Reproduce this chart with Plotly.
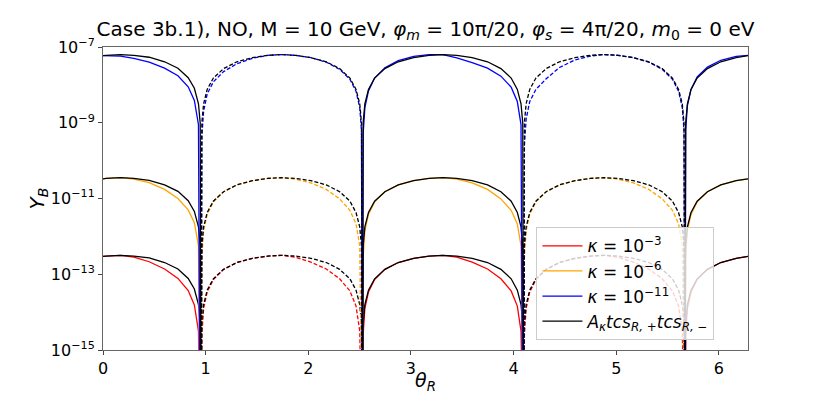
import numpy as np
import plotly.graph_objects as go

# theta_R sample points (dense near the zeros at ~0.955 + k*pi/2)
theta = [
    0.0, 0.03, 0.17, 0.30, 0.45, 0.60, 0.73, 0.83, 0.89, 0.93, 0.947,
    0.955,
    0.963, 0.980, 1.015, 1.075, 1.175, 1.305, 1.455, 1.605, 1.740, 1.875, 2.025, 2.175, 2.305, 2.405, 2.465, 2.501, 2.518,
    2.526,
    2.534, 2.551, 2.586, 2.646, 2.746, 2.876, 3.026, 3.176, 3.311, 3.446, 3.596, 3.746, 3.876, 3.976, 4.036, 4.072, 4.089,
    4.097,
    4.105, 4.122, 4.157, 4.217, 4.317, 4.447, 4.597, 4.747, 4.882, 5.017, 5.167, 5.317, 5.447, 5.547, 5.607, 5.643, 5.660,
    5.668,
    5.676, 5.693, 5.728, 5.788, 5.888, 6.018, 6.168, 6.283,
]
# +1 positive (solid), -1 negative (dashed), 0 zero crossing
branch = [1] * 11 + [0] + [-1] * 17 + [0] + [1] * 17 + [0] + [-1] * 17 + [0] + [1] * 8

# log10(Y_B)
logy_blue = [
    -7.23, -7.23, -7.24, -7.30, -7.40, -7.56, -7.76, -8.05, -8.41, -9.05, -18,
    -18,
    -9.35, -8.70, -8.24, -7.92, -7.65, -7.44, -7.30, -7.22, -7.20, -7.22, -7.28, -7.40, -7.59, -7.85, -8.17, -8.60, -9.21,
    -18,
    -9.30, -8.60, -8.16, -7.82, -7.55, -7.36, -7.25, -7.20, -7.20, -7.29, -7.41, -7.56, -7.77, -8.06, -8.44, -9.05, -18,
    -18,
    -9.60, -8.90, -8.44, -8.12, -7.84, -7.54, -7.34, -7.24, -7.20, -7.22, -7.28, -7.40, -7.59, -7.85, -8.17, -8.60, -9.21,
    -18,
    -9.20, -8.55, -8.12, -7.79, -7.53, -7.35, -7.25, -7.22,
]
logy_blue_ref = [
    -7.23, -7.22, -7.20, -7.22, -7.27, -7.39, -7.56, -7.81, -8.09, -8.50, -9.01,
    -18,
    -9.00, -8.50, -8.12, -7.82, -7.57, -7.39, -7.28, -7.22, -7.20, -7.22, -7.28, -7.39, -7.57, -7.82, -8.12, -8.50, -9.01,
    -18,
    -9.00, -8.50, -8.12, -7.82, -7.57, -7.39, -7.28, -7.22, -7.20, -7.22, -7.28, -7.39, -7.57, -7.82, -8.12, -8.50, -9.01,
    -18,
    -9.00, -8.50, -8.12, -7.82, -7.57, -7.39, -7.28, -7.22, -7.20, -7.22, -7.28, -7.39, -7.57, -7.82, -8.12, -8.50, -9.01,
    -18,
    -9.00, -8.50, -8.12, -7.82, -7.57, -7.39, -7.28, -7.23,
]
logy_orange = [
    -10.48, -10.47, -10.45, -10.49, -10.58, -10.76, -11.00, -11.30, -11.64, -12.25, -18,
    -18,
    -12.55, -11.85, -11.42, -11.09, -10.82, -10.64, -10.53, -10.47, -10.45, -10.49, -10.59, -10.76, -11.01, -11.31, -11.67, -12.25, -18,
    -18,
    -12.55, -11.85, -11.42, -11.09, -10.82, -10.64, -10.53, -10.47, -10.45, -10.49, -10.59, -10.76, -11.01, -11.31, -11.67, -12.25, -18,
    -18,
    -12.55, -11.85, -11.42, -11.09, -10.82, -10.64, -10.53, -10.47, -10.45, -10.49, -10.59, -10.76, -11.01, -11.31, -11.67, -12.25, -18,
    -18,
    -12.55, -11.85, -11.42, -11.09, -10.82, -10.64, -10.53, -10.48,
]
logy_orange_ref = [
    -10.48, -10.47, -10.45, -10.47, -10.52, -10.64, -10.81, -11.06, -11.34, -11.75, -12.26,
    -18,
    -12.25, -11.75, -11.37, -11.07, -10.82, -10.64, -10.53, -10.47, -10.45, -10.47, -10.53, -10.64, -10.82, -11.07, -11.37, -11.75, -12.26,
    -18,
    -12.25, -11.75, -11.37, -11.07, -10.82, -10.64, -10.53, -10.47, -10.45, -10.47, -10.53, -10.64, -10.82, -11.07, -11.37, -11.75, -12.26,
    -18,
    -12.25, -11.75, -11.37, -11.07, -10.82, -10.64, -10.53, -10.47, -10.45, -10.47, -10.53, -10.64, -10.82, -11.07, -11.37, -11.75, -12.26,
    -18,
    -12.25, -11.75, -11.37, -11.07, -10.82, -10.64, -10.53, -10.48,
]
logy_red = [
    -12.53, -12.52, -12.50, -12.55, -12.67, -12.86, -13.11, -13.43, -13.81, -14.50, -18,
    -18,
    -14.60, -13.90, -13.47, -13.14, -12.87, -12.69, -12.58, -12.52, -12.50, -12.55, -12.68, -12.86, -13.12, -13.44, -13.84, -14.50, -18,
    -18,
    -14.60, -13.90, -13.47, -13.14, -12.87, -12.69, -12.58, -12.52, -12.50, -12.55, -12.68, -12.86, -13.12, -13.44, -13.84, -14.50, -18,
    -18,
    -14.60, -13.90, -13.47, -13.14, -12.87, -12.69, -12.58, -12.52, -12.50, -12.55, -12.68, -12.86, -13.12, -13.44, -13.84, -14.50, -18,
    -18,
    -14.60, -13.90, -13.47, -13.14, -12.87, -12.69, -12.58, -12.53,
]
logy_red_ref = [
    -12.53, -12.52, -12.50, -12.52, -12.57, -12.69, -12.86, -13.11, -13.39, -13.80, -14.31,
    -18,
    -14.30, -13.80, -13.42, -13.12, -12.87, -12.69, -12.58, -12.52, -12.50, -12.52, -12.58, -12.69, -12.87, -13.12, -13.42, -13.80, -14.31,
    -18,
    -14.30, -13.80, -13.42, -13.12, -12.87, -12.69, -12.58, -12.52, -12.50, -12.52, -12.58, -12.69, -12.87, -13.12, -13.42, -13.80, -14.31,
    -18,
    -14.30, -13.80, -13.42, -13.12, -12.87, -12.69, -12.58, -12.52, -12.50, -12.52, -12.58, -12.69, -12.87, -13.12, -13.42, -13.80, -14.31,
    -18,
    -14.30, -13.80, -13.42, -13.12, -12.87, -12.69, -12.58, -12.53,
]

y_tickvals = [1e-15, 1e-13, 1e-11, 1e-9, 1e-7]
y_ticktext = ["10<sup>−15</sup>", "10<sup>−13</sup>", "10<sup>−11</sup>", "10<sup>−9</sup>", "10<sup>−7</sup>"]

labels = ["<i>κ</i> = 10<sup>−3</sup>", "<i>κ</i> = 10<sup>−6</sup>", "<i>κ</i> = 10<sup>−11</sup>"]
ref_label = "<i>A<sub>κ</sub>tcs<sub>R, +</sub>tcs<sub>R, −</sub></i>"
families = [
    (logy_red, logy_red_ref, "red", labels[0]),
    (logy_orange, logy_orange_ref, "orange", labels[1]),
    (logy_blue, logy_blue_ref, "blue", labels[2]),
]


def split(logvals):
    y = 10.0 ** np.array(logvals)
    pos = [v if b >= 0 else None for v, b in zip(y, branch)]
    neg = [v if b <= 0 else None for v, b in zip(y, branch)]
    return pos, neg


fig = go.Figure()
for i, (vals, ref, color, name) in enumerate(families):
    for col, data, nm, rank in [(color, vals, name, i + 1), ("black", ref, ref_label, 4)]:
        pos, neg = split(data)
        fig.add_trace(go.Scatter(x=theta, y=pos, mode="lines", line=dict(color=col, width=1.3),
                                 name=nm, legendrank=rank,
                                 showlegend=(col != "black") or i == 2))
        fig.add_trace(go.Scatter(x=theta, y=neg, mode="lines",
                                 line=dict(color=col, width=1.3, dash="4px,2px"),
                                 showlegend=False))

# the page body adds an 8px offset, so margins are set 8px smaller at top/left
axis_font = dict(family="DejaVu Sans", size=16, color="black")
fig.update_layout(
    width=831, height=394,
    margin=dict(l=95, r=91, t=39, b=52, autoexpand=False),
    plot_bgcolor="white", paper_bgcolor="white",
    font=dict(family="DejaVu Sans", color="black"),
    title=dict(text="Case 3b.1), NO, M = 10 GeV, <i>φ<sub>m</sub></i> = 10π/20, <i>φ<sub>s</sub></i> = 4π/20, <i>m</i><sub>0</sub> = 0 eV",
               x=0.5, xref="paper", xanchor="center", y=0.947, yanchor="middle", font=dict(size=20)),
    legend=dict(x=0.672, y=0.405, xanchor="left", yanchor="top", itemwidth=40,
                bgcolor="rgba(255,255,255,0.8)", bordercolor="#cccccc", borderwidth=1,
                font=dict(size=17), tracegroupgap=0),
    annotations=[dict(text="<i>θ<sub>R</sub></i>", xref="paper", yref="paper", x=0.5, y=-0.105,
                      xanchor="center", yanchor="middle", showarrow=False, font=dict(size=19))],
)
fig.update_xaxes(range=[0, 2 * np.pi], dtick=1, tick0=0, showgrid=False, zeroline=False,
                 showline=True, linecolor="#666", mirror=True, ticks="outside", ticklen=4,
                 tickfont=axis_font, automargin=False)
fig.update_yaxes(type="log", range=[-15, -7], tickvals=y_tickvals, ticktext=y_ticktext,
                 showgrid=False, zeroline=False,
                 showline=True, linecolor="#666", mirror=True, ticks="outside", ticklen=4,
                 tickfont=axis_font, automargin=False,
                 title=dict(text="<i>Y<sub>B</sub></i>", font=dict(size=20), standoff=0))

fig.write_html("out.html")
